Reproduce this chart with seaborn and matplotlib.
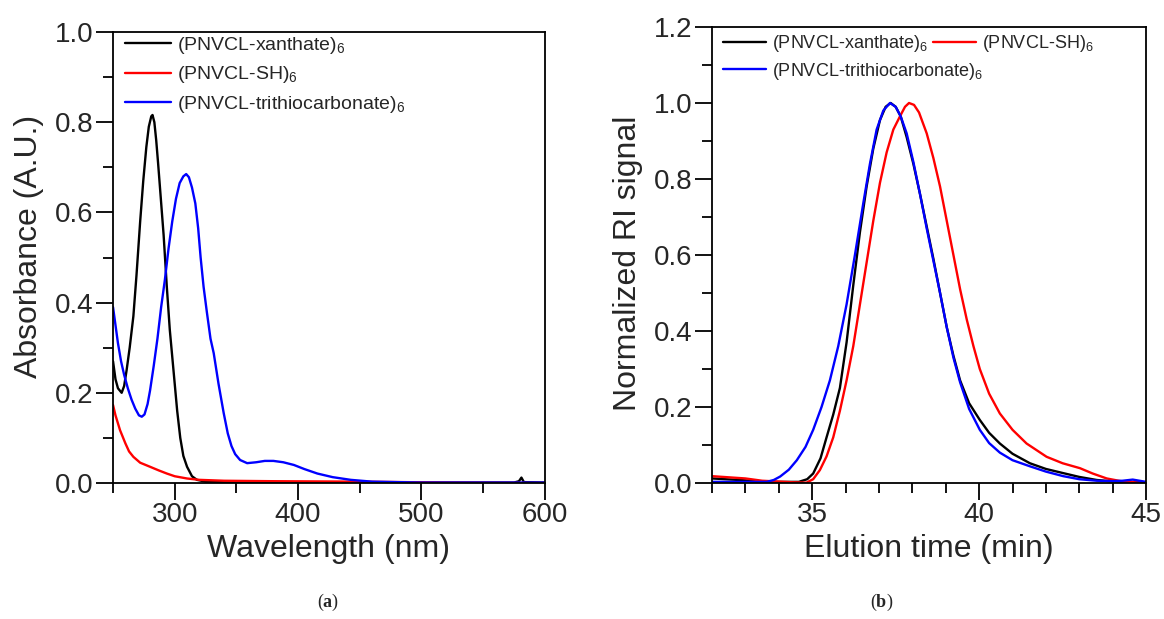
import matplotlib
matplotlib.use('Agg')
import matplotlib.pyplot as plt
import seaborn as sns
from matplotlib.ticker import MultipleLocator, FormatStrFormatter
from matplotlib.lines import Line2D

sns.set_theme(style='ticks')
plt.rcParams['font.family'] = ['Liberation Sans', 'DejaVu Sans']
plt.rcParams['mathtext.fontset'] = 'custom'
plt.rcParams['mathtext.rm'] = 'Liberation Sans'
plt.rcParams['mathtext.bf'] = 'Liberation Serif:bold'

# ---- (a) UV-vis absorbance ----
xan_nm = [250, 252, 254, 257, 259, 261, 263.5, 266.5, 269, 272, 274.5, 277, 279, 281, 282, 283.5, 285, 286.5, 288, 291,
          293.6, 296, 299, 302, 304.5, 307, 310, 314, 318, 325, 360, 450, 575, 579, 581, 583, 600]
xan_abs = [0.27, 0.23, 0.21, 0.20, 0.215, 0.25, 0.30, 0.37, 0.46, 0.58, 0.67, 0.745, 0.79, 0.813, 0.816, 0.80, 0.76, 0.71, 0.657, 0.55,
           0.435, 0.34, 0.25, 0.16, 0.10, 0.06, 0.036, 0.015, 0.007, 0.003, 0.002, 0.001, 0.001, 0.004, 0.012, 0.002, 0.001]

sh_nm = [250, 252, 255.7, 260, 263, 266.5, 272, 280, 287, 293.6, 300, 310, 320, 340, 380, 450, 520, 600]
sh_abs = [0.173, 0.15, 0.117, 0.088, 0.07, 0.058, 0.045, 0.036, 0.028, 0.021, 0.015, 0.010, 0.007, 0.005, 0.004, 0.003, 0.001, 0.0]

tri_nm = [250, 252, 254, 256.5, 259, 262, 265, 268, 271, 273.3, 275.5, 278, 280, 283, 286, 289, 292, 295, 298, 301, 304, 307,
          309.3, 311.5, 314, 316.7, 319, 321, 323.4, 326, 329, 331.6, 335.5, 339.7, 343, 346, 349, 353, 358.7, 366, 373, 380,
          388, 396.6, 405, 415.6, 428, 442.7, 460, 500, 600]
tri_abs = [0.39, 0.35, 0.31, 0.27, 0.24, 0.21, 0.185, 0.165, 0.15, 0.147, 0.152, 0.175, 0.205, 0.26, 0.32, 0.39, 0.45, 0.52, 0.58, 0.63, 0.665, 0.68,
           0.685, 0.678, 0.655, 0.62, 0.565, 0.50, 0.435, 0.38, 0.32, 0.288, 0.22, 0.155, 0.11, 0.082, 0.064, 0.051, 0.044, 0.046, 0.049, 0.049,
           0.046, 0.040, 0.031, 0.021, 0.013, 0.007, 0.003, 0.001, 0.001]

# ---- (b) GPC traces ----
xan_t = [32, 33, 33.5, 34.6, 34.85, 35.03, 35.25, 35.43, 35.63, 35.83, 36.03, 36.23, 36.43, 36.63, 36.83, 37.03, 37.2, 37.35, 37.5, 37.65,
         37.83, 38.03, 38.23, 38.43, 38.63, 38.83, 39.03, 39.23, 39.43, 39.7, 40.02, 40.3, 40.62, 41.0, 41.52, 42.0, 42.52, 43.0, 43.52, 44, 45]
xan_ri = [0.012, 0.007, 0.003, 0.003, 0.01, 0.025, 0.065, 0.12, 0.18, 0.25, 0.37, 0.52, 0.66, 0.78, 0.88, 0.955, 0.99, 1.0, 0.99, 0.965,
          0.91, 0.84, 0.76, 0.675, 0.59, 0.50, 0.41, 0.335, 0.27, 0.21, 0.166, 0.132, 0.104, 0.077, 0.052, 0.037, 0.026, 0.016, 0.008, 0.004, 0.002]

sh_t = [32, 33, 33.5, 34.4, 34.83, 35.03, 35.23, 35.43, 35.63, 35.83, 36.03, 36.23, 36.43, 36.63, 36.83, 37.03, 37.23, 37.43, 37.63, 37.78,
        37.9, 38.05, 38.2, 38.43, 38.63, 38.83, 39.03, 39.23, 39.43, 39.63, 39.83, 40.02, 40.3, 40.62, 41.0, 41.42, 42.02, 42.5, 43.02,
        43.4, 43.82, 44.3, 45]
sh_ri = [0.018, 0.012, 0.006, 0.002, 0.001, 0.01, 0.034, 0.07, 0.12, 0.19, 0.27, 0.36, 0.47, 0.58, 0.69, 0.79, 0.87, 0.93, 0.965, 0.99,
         1.0, 0.995, 0.975, 0.92, 0.855, 0.78, 0.69, 0.60, 0.51, 0.43, 0.36, 0.30, 0.235, 0.183, 0.14, 0.104, 0.069, 0.052, 0.039,
         0.025, 0.012, 0.004, 0.0]

tri_t = [32, 33, 33.64, 33.85, 34.04, 34.3, 34.54, 34.8, 35.03, 35.28, 35.53, 35.78, 36.03, 36.28, 36.53, 36.73, 36.93, 37.13, 37.33,
         37.5, 37.65, 37.83, 38.03, 38.23, 38.43, 38.63, 38.83, 39.03, 39.23, 39.43, 39.7, 40.02, 40.3, 40.62, 41.0, 41.52, 42.0,
         42.52, 43.0, 43.52, 44.0, 44.3, 44.6, 45]
tri_ri = [0.003, 0.003, 0.003, 0.008, 0.017, 0.035, 0.06, 0.095, 0.14, 0.20, 0.27, 0.36, 0.47, 0.60, 0.736, 0.84, 0.93, 0.98, 1.0,
          0.99, 0.965, 0.92, 0.845, 0.76, 0.67, 0.585, 0.50, 0.41, 0.33, 0.265, 0.195, 0.14, 0.105, 0.08, 0.06, 0.044, 0.03,
          0.018, 0.01, 0.006, 0.005, 0.006, 0.009, 0.003]

labels = [r'(PNVCL-xanthate)$_{\mathregular{6}}$', r'(PNVCL-SH)$_{\mathregular{6}}$',
          r'(PNVCL-trithiocarbonate)$_{\mathregular{6}}$']
colors = ['black', '#ff0000', '#0000ff']

fig = plt.figure(figsize=(11.64, 6.19), dpi=100)
ax1 = fig.add_axes([0.0971, 0.2197, 0.371, 0.7286])
ax2 = fig.add_axes([0.6117, 0.2197, 0.3729, 0.7367])

lw = 1.7
sns.lineplot(x=xan_nm, y=xan_abs, color=colors[0], lw=lw, ax=ax1)
sns.lineplot(x=sh_nm, y=sh_abs, color=colors[1], lw=lw, ax=ax1)
sns.lineplot(x=tri_nm, y=tri_abs, color=colors[2], lw=lw, ax=ax1)

sns.lineplot(x=xan_t, y=xan_ri, color=colors[0], lw=lw, ax=ax2)
sns.lineplot(x=sh_t, y=sh_ri, color=colors[1], lw=lw, ax=ax2)
sns.lineplot(x=tri_t, y=tri_ri, color=colors[2], lw=lw, ax=ax2)

ax1.set_xlim(250, 600)
ax1.set_ylim(0, 1.0)
ax1.xaxis.set_major_locator(MultipleLocator(100))
ax1.xaxis.set_minor_locator(MultipleLocator(50))
ax1.yaxis.set_major_locator(MultipleLocator(0.2))
ax1.yaxis.set_minor_locator(MultipleLocator(0.1))
ax1.set_xticks([300, 400, 500, 600])
ax1.set_xlabel('Wavelength (nm)', fontsize=23, labelpad=4)
ax1.set_ylabel('Absorbance (A.U.)', fontsize=23, labelpad=8)
ax1.yaxis.label.set_y(0.525)

ax2.set_xlim(32, 45)
ax2.set_ylim(0, 1.2)
ax2.xaxis.set_major_locator(MultipleLocator(5))
ax2.xaxis.set_minor_locator(MultipleLocator(1))
ax2.yaxis.set_major_locator(MultipleLocator(0.2))
ax2.yaxis.set_minor_locator(MultipleLocator(0.1))
ax2.set_xlabel('Elution time (min)', fontsize=23, labelpad=4)
ax2.set_ylabel('Normalized RI signal', fontsize=23, labelpad=8)
ax2.yaxis.label.set_y(0.482)

for ax in (ax1, ax2):
    ax.yaxis.set_major_formatter(FormatStrFormatter('%.1f'))
    ax.tick_params(which='major', direction='out', length=12, width=1.3, labelsize=20, pad=2, color='black')
    ax.tick_params(which='minor', direction='out', length=7, width=1.3, color='black')
    ax.tick_params(top=False, right=False, which='both')
    for s in ax.spines.values():
        s.set_visible(True)
        s.set_linewidth(1.3)
        s.set_color('black')
    ax.set_facecolor('white')

handles = [Line2D([], [], color=c, lw=lw) for c in colors]
ax1.legend(handles, labels, loc='upper left', frameon=False, fontsize=14,
           handlelength=2.4, handletextpad=0.3, labelspacing=0.45,
           borderaxespad=0.2, bbox_to_anchor=(0.0, 1.02))

leg_a = ax2.legend(handles[:2], labels[:2], loc='upper left', ncol=2, frameon=False, fontsize=13,
                   handlelength=2.4, handletextpad=0.3, columnspacing=0.3,
                   borderaxespad=0.2, bbox_to_anchor=(0.0, 1.01))
ax2.add_artist(leg_a)
ax2.legend(handles[2:], labels[2:], loc='upper left', frameon=False, fontsize=13,
           handlelength=2.4, handletextpad=0.3, borderaxespad=0.2,
           bbox_to_anchor=(0.0, 0.95))

fig.text(0.282, 0.026, r'($\mathbf{a}$)', ha='center', va='center', fontsize=13, family='Liberation Serif')
fig.text(0.757, 0.026, r'($\mathbf{b}$)', ha='center', va='center', fontsize=13, family='Liberation Serif')

fig.savefig('out.png', dpi=100, facecolor='white')
